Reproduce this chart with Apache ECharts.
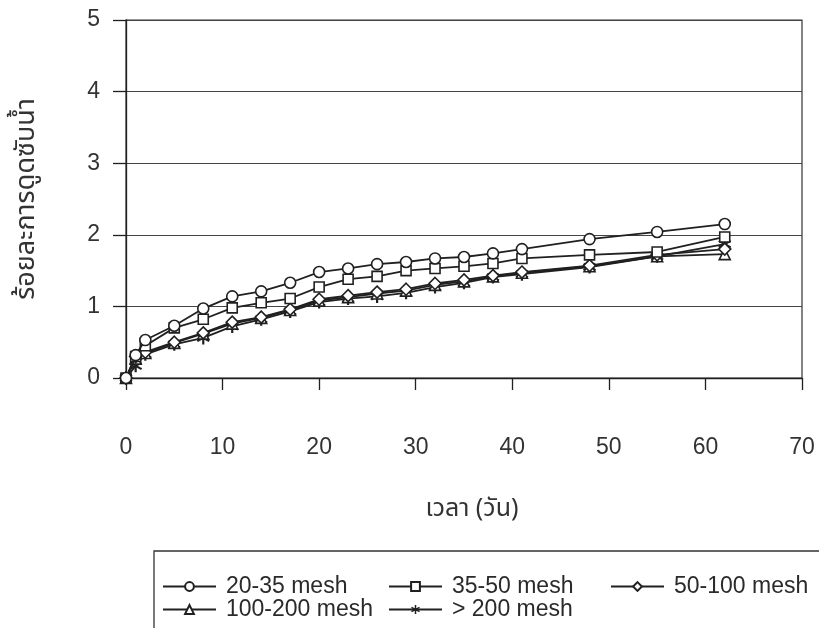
<!DOCTYPE html>
<html>
<head>
<meta charset="utf-8">
<script src="https://cdn.jsdelivr.net/npm/echarts@6/dist/echarts.min.js"></script>
<style>
  html, body { margin: 0; padding: 0; background: #fff; }
  #chart { width: 819px; height: 628px; }
</style>
</head>
<body>
<div id="chart"></div>
<script>
// Sampling days
const days = [0, 1, 2, 5, 8, 11, 14, 17, 20, 23, 26, 29, 32, 35, 38, 41, 48, 55, 62];

// Water absorption (%) for each particle size range
const mesh20_35   = [0, 0.32, 0.53, 0.73, 0.97, 1.14, 1.21, 1.33, 1.48, 1.53, 1.59, 1.62, 1.67, 1.69, 1.74, 1.80, 1.94, 2.04, 2.15];
const mesh35_50   = [0, 0.30, 0.45, 0.70, 0.82, 0.98, 1.05, 1.11, 1.27, 1.38, 1.42, 1.50, 1.53, 1.56, 1.60, 1.67, 1.72, 1.76, 1.97];
const mesh50_100  = [0, 0.30, 0.36, 0.50, 0.63, 0.78, 0.85, 0.96, 1.10, 1.15, 1.20, 1.24, 1.32, 1.37, 1.43, 1.48, 1.57, 1.72, 1.80];
const mesh100_200 = [0, 0.27, 0.35, 0.49, 0.62, 0.76, 0.84, 0.95, 1.08, 1.13, 1.18, 1.22, 1.30, 1.35, 1.42, 1.47, 1.56, 1.70, 1.73];
const mesh200     = [0, 0.17, 0.33, 0.47, 0.56, 0.72, 0.82, 0.93, 1.06, 1.11, 1.14, 1.19, 1.27, 1.33, 1.41, 1.45, 1.55, 1.70, 1.87];

const seriesNames = ['20-35 mesh', '35-50 mesh', '50-100 mesh', '100-200 mesh', '> 200 mesh'];
const seriesValues = [mesh20_35, mesh35_50, mesh50_100, mesh100_200, mesh200];

const xTicks = { min: 0, max: 70, interval: 10 };
const yTicks = { min: 0, max: 5, interval: 1 };

// six-armed asterisk marker
const ASTERISK = 'path://M4.2,0L5.8,0L5.8,10L4.2,10Z' +
  'M0.27,3.19L1.07,1.81L9.73,6.81L8.93,8.19Z' +
  'M8.93,1.81L9.73,3.19L1.07,8.19L0.27,6.81Z';

const ink = '#202020';
const font = '"Liberation Sans", Arial, sans-serif';
const thaiFont = '"Noto Sans Thai", "Noto Sans", "DejaVu Sans", sans-serif';

const markerStyles = [
  { symbol: 'circle',   size: 11, hollow: true },
  { symbol: 'rect',     size: 10, hollow: true },
  { symbol: 'diamond',  size: 12, hollow: true },
  { symbol: 'triangle', size: 11, hollow: true },
  { symbol: ASTERISK,   size: 13, hollow: false }
];

const series = seriesNames.map((name, i) => {
  const m = markerStyles[i];
  return {
    name: name,
    type: 'line',
    data: days.map((d, k) => [d, seriesValues[i][k]]),
    symbol: m.symbol,
    symbolSize: m.size,
    showAllSymbol: true,
    z: 10 - i,
    lineStyle: { color: ink, width: 1.8 },
    itemStyle: m.hollow
      ? { color: '#ffffff', borderColor: ink, borderWidth: 1.6 }
      : { color: ink, borderWidth: 0 },
    emphasis: { disabled: true },
    animation: false
  };
});

const legendText = { fontFamily: font, fontSize: 23, color: '#2a2a2a', lineHeight: 22, padding: [0, 0, 0, 5] };
function legendColumn(left, names) {
  return {
    orient: 'vertical', left: left, top: 575,
    itemWidth: 53, itemHeight: 11, itemGap: 0, padding: 0,
    textStyle: legendText, selectedMode: false,
    data: names
  };
}

const chart = echarts.init(document.getElementById('chart'), null, { renderer: 'canvas' });
chart.setOption({
  backgroundColor: '#ffffff',
  animation: false,
  grid: {
    left: 126, right: 17, top: 20, bottom: 250,
    show: true, borderColor: '#333', borderWidth: 1.2, backgroundColor: 'transparent'
  },
  xAxis: {
    type: 'value', min: xTicks.min, max: xTicks.max, interval: xTicks.interval,
    name: 'เวลา (วัน)', nameLocation: 'middle', nameGap: 120,
    nameTextStyle: { fontFamily: thaiFont, fontSize: 25, color: '#333', padding: [0, 0, 0, 16] },
    axisLine: { show: true, lineStyle: { color: ink, width: 1.3 } },
    axisTick: { show: true, length: 12, lineStyle: { color: ink, width: 1.3 } },
    axisLabel: { margin: 58, fontFamily: font, fontSize: 23, color: '#333' },
    splitLine: { show: false }
  },
  yAxis: {
    type: 'value', min: yTicks.min, max: yTicks.max, interval: yTicks.interval,
    name: 'ร้อยละการดูดซับน้ำ', nameLocation: 'middle', nameGap: 84, nameRotate: 90,
    nameTextStyle: { fontFamily: thaiFont, fontSize: 27, color: '#333' },
    axisLine: { show: true, lineStyle: { color: ink, width: 1.3 } },
    axisTick: { show: true, length: 13, lineStyle: { color: ink, width: 1.3 } },
    axisLabel: { margin: 26, fontFamily: font, fontSize: 23, color: '#333' },
    splitLine: { show: true, lineStyle: { color: '#444', width: 1.2 } }
  },
  legend: [
    legendColumn(162, [seriesNames[0], seriesNames[3]]),
    legendColumn(388, [seriesNames[1], seriesNames[4]]),
    legendColumn(610, [seriesNames[2]])
  ],
  graphic: [{
    type: 'rect', silent: true, z: 0,
    shape: { x: 154, y: 551, width: 720, height: 120 },
    style: { fill: 'none', stroke: '#333', lineWidth: 1.3 }
  }],
  series: series
});
</script>
</body>
</html>
